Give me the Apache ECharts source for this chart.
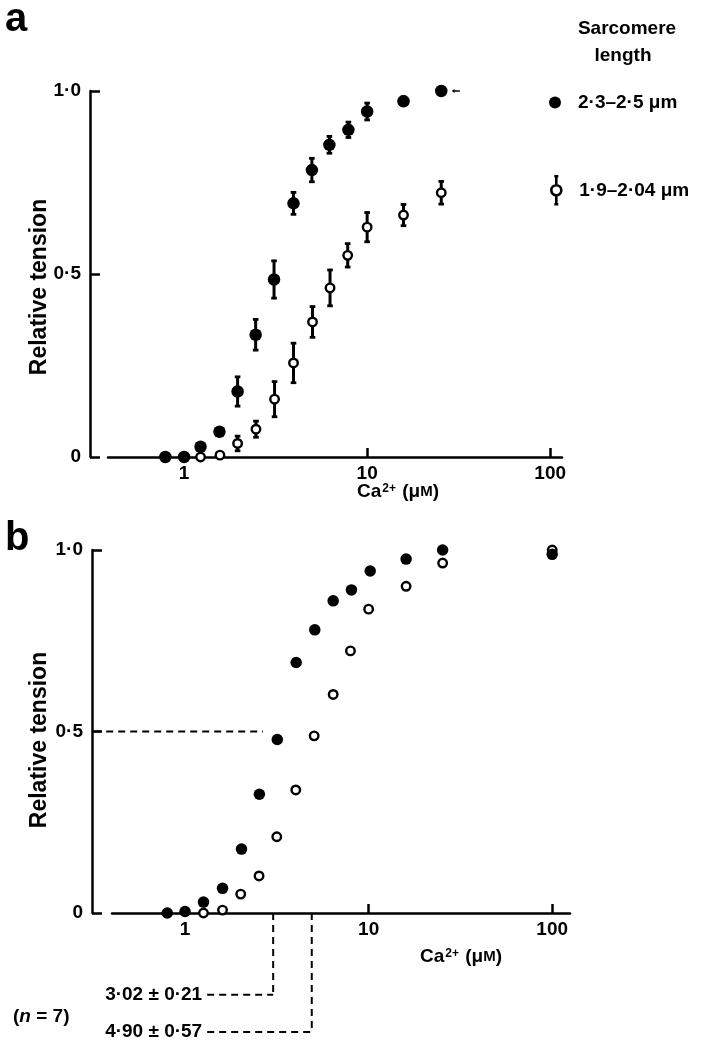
<!DOCTYPE html>
<html>
<head>
<meta charset="utf-8">
<script src="https://cdn.jsdelivr.net/npm/echarts@6/dist/echarts.min.js"></script>
<style>
html,body{margin:0;padding:0;background:#fff;}
#chart{width:705px;height:1050px;}
</style>
</head>
<body>
<div id="chart"></div>
<script>
// ---------------- DATA ----------------
// Panel a : mean tension ± s.e.m.
const caLongA    = [0.79, 1.0, 1.23, 1.56, 1.96, 2.46, 3.10, 3.96, 4.99, 6.22, 7.90, 10.0, 15.8, 25.4];
const tensLongA  = [0, 0, 0.028, 0.069, 0.179, 0.334, 0.485, 0.693, 0.784, 0.853, 0.894, 0.944, 0.972, 1.0];
const semLongA   = [0, 0, 0, 0, 0.040, 0.042, 0.051, 0.030, 0.032, 0.023, 0.021, 0.023, 0.012, 0];
const caShortA   = [1.23, 1.57, 1.96, 2.47, 3.12, 3.96, 5.03, 6.27, 7.83, 10.0, 15.8, 25.4];
const tensShortA = [0, 0.005, 0.037, 0.076, 0.158, 0.257, 0.369, 0.462, 0.551, 0.628, 0.661, 0.722];
const semShortA  = [0, 0, 0.020, 0.022, 0.048, 0.054, 0.042, 0.049, 0.032, 0.040, 0.029, 0.031];
const refArrowA  = [[30.5, 1.0]];

// Panel b : each curve normalised to its own maximum
const caLongB    = [0.80, 1.0, 1.26, 1.60, 2.03, 2.54, 3.18, 4.03, 5.09, 6.41, 8.06, 10.2, 16.0, 25.3, 100];
const tensLongB  = [0, 0.004, 0.030, 0.068, 0.176, 0.327, 0.478, 0.690, 0.780, 0.860, 0.890, 0.942, 0.975, 1.0, 0.988];
const caShortB   = [1.26, 1.60, 2.01, 2.53, 3.16, 4.01, 5.05, 6.41, 7.96, 10.0, 16.0, 25.3, 100];
const tensShortB = [0, 0.008, 0.052, 0.102, 0.210, 0.339, 0.488, 0.602, 0.722, 0.837, 0.900, 0.964, 1.0];

const halfMax  = 0.5;
const ec50     = [3.02, 4.90];
const ec50Sem  = [0.21, 0.57];
const nFibres  = 7;

const xTickValues = [1, 10, 100];
const xTickMarks  = [10, 100];
const seriesNames = ['2·3–2·5 μm', '1·9–2·04 μm'];

// ---------------- LAYOUT / STYLE ----------------
const FONT = '"Liberation Sans", Arial, Helvetica, sans-serif';
const BLACK = '#000';
const guideStartX = 0.32;     // where the half-max dashed line starts (y-axis)
const guideEndX   = 2.66;     // where it stops, before the points
const labelLeftX  = 1.32;     // left end of the label leaders
const labelRowY   = [-0.225, -0.328];

const zip3 = (a, b, c) => a.map((v, i) => [v, b[i], c[i]]);
const zip2 = (a, b) => a.map((v, i) => [v, b[i]]);
const fmtDot = v => String(v).replace('.', '·');

function yAxisCfg(grid, offset) {
  return {
    gridIndex: grid, type: 'value', min: 0, max: 1, interval: 0.5, offset: offset,
    axisLine: {show: true, lineStyle: {color: BLACK, width: 2.5}},
    axisTick: {show: true, inside: true, length: 10, lineStyle: {color: BLACK, width: 2.5}},
    axisLabel: {
      color: BLACK, fontFamily: FONT, fontWeight: 'bold', fontSize: 19, margin: 9,
      formatter: v => v === 0 ? '0' : v.toFixed(1).replace('.', '·')
    },
    splitLine: {show: false}
  };
}
function xAxisCfg(grid, min, max) {
  return {
    gridIndex: grid, type: 'log', logBase: 10, min: min, max: max,
    axisLine: {show: true, onZero: false, lineStyle: {color: BLACK, width: 2.5}},
    axisTick: {show: true, inside: true, length: 9, customValues: xTickMarks,
               lineStyle: {color: BLACK, width: 2.5}},
    axisLabel: {customValues: xTickValues, color: BLACK, fontFamily: FONT, fontWeight: 'bold',
                fontSize: 19, margin: 7, formatter: v => String(Math.round(v))},
    splitLine: {show: false}, minorTick: {show: false}
  };
}

function errRender(params, api) {
  const x = api.value(0), y = api.value(1), e = api.value(2);
  if (!(e > 0)) return null;
  const t = api.coord([x, y + e]), b = api.coord([x, y - e]);
  const cw = 2.8;
  return {type: 'group', children: [
    {type: 'line', shape: {x1: t[0], y1: t[1], x2: b[0], y2: b[1]}, style: {stroke: BLACK, lineWidth: 3}},
    {type: 'line', shape: {x1: t[0] - cw, y1: t[1], x2: t[0] + cw, y2: t[1]}, style: {stroke: BLACK, lineWidth: 2.8}},
    {type: 'line', shape: {x1: b[0] - cw, y1: b[1], x2: b[0] + cw, y2: b[1]}, style: {stroke: BLACK, lineWidth: 2.8}}
  ]};
}

// dashed guide segments of panel b, built from the data above
const guideRows = [[guideStartX, halfMax, guideEndX, halfMax]];
const guideLabels = [null];
ec50.forEach((v, i) => {
  guideRows.push([v, 0, v, labelRowY[i]]);
  guideLabels.push(null);
  guideRows.push([labelLeftX, labelRowY[i], v, labelRowY[i]]);
  guideLabels.push(fmtDot(v.toFixed(2)) + ' ± ' + fmtDot(ec50Sem[i].toFixed(2)));
});
function guideRender(params, api) {
  const p1 = api.coord([api.value(0), api.value(1)]);
  const p2 = api.coord([api.value(2), api.value(3)]);
  const ch = [{type: 'line', shape: {x1: p1[0], y1: p1[1], x2: p2[0], y2: p2[1]},
               style: {stroke: BLACK, lineWidth: 2, lineDash: [7, 5]}}];
  const lab = guideLabels[params.dataIndex];
  if (lab) ch.push({type: 'text', x: p1[0] - 5, y: p1[1],
    style: {text: lab, align: 'right', verticalAlign: 'middle', fill: BLACK,
            font: 'bold 19px ' + FONT}});
  return {type: 'group', children: ch};
}

const filledStyle = {color: BLACK, opacity: 1};
const openStyle = {color: '#fff', borderColor: BLACK, borderWidth: 2.4, opacity: 1};

const caName = {
  text: 'Ca{sup|2+} ({mu|μ}{sm|M})',
  rich: {
    sup: {fontSize: 12, fontWeight: 'bold', fontFamily: FONT, fill: BLACK, verticalAlign: 'top', padding: [0, 1, 0, 1]},
    mu: {fontSize: 19, fontWeight: 'bold', fontFamily: FONT, fill: BLACK},
    sm: {fontSize: 15, fontWeight: 'bold', fontFamily: FONT, fill: BLACK}
  },
  fontSize: 19, fontWeight: 'bold', fontFamily: FONT, fill: BLACK
};

const legendText = {color: BLACK, fontFamily: FONT, fontWeight: 'bold', fontSize: 19};

const chart = echarts.init(document.getElementById('chart'), null, {renderer: 'canvas'});
chart.setOption({
  animation: false,
  backgroundColor: '#fff',
  grid: [
    {left: 108, top: 91, width: 454, height: 366, outerBoundsMode: 'none', containLabel: false},
    {left: 112, top: 550, width: 458, height: 363, outerBoundsMode: 'none', containLabel: false}
  ],
  xAxis: [xAxisCfg(0, 0.384, 116), xAxisCfg(1, 0.40, 125)],
  yAxis: [yAxisCfg(0, 18), yAxisCfg(1, 20)],
  legend: [
    {data: [{name: seriesNames[0], icon: 'circle',
             itemStyle: {color: BLACK, opacity: 1, borderWidth: 0}}],
     left: 544, top: 88, itemWidth: 12, itemHeight: 12,
     selectedMode: false, textStyle: Object.assign({padding: [0, 0, 0, 12]}, legendText)},
    {data: [{name: seriesNames[1],
             icon: 'path://M3,0L7,0M5,0L5,9M10,14A5,5,0,1,1,0,14A5,5,0,1,1,10,14ZM5,19L5,28M3,28L7,28',
             itemStyle: {color: '#fff', borderColor: BLACK, borderWidth: 2.6, opacity: 1}}],
     left: 545, top: 170, itemWidth: 10, itemHeight: 28,
     selectedMode: false, textStyle: Object.assign({padding: [0, 0, 0, 13]}, legendText)}
  ],
  series: [
    // panel a error bars
    {type: 'custom', name: seriesNames[0] + ' sem', xAxisIndex: 0, yAxisIndex: 0, z: 2,
     data: zip3(caLongA, tensLongA, semLongA), encode: {x: 0, y: 1}, renderItem: errRender, silent: true},
    {type: 'custom', name: seriesNames[1] + ' sem', xAxisIndex: 0, yAxisIndex: 0, z: 2,
     data: zip3(caShortA, tensShortA, semShortA), encode: {x: 0, y: 1}, renderItem: errRender, silent: true},
    // panel a points
    {type: 'scatter', name: seriesNames[0], xAxisIndex: 0, yAxisIndex: 0, z: 3, clip: false,
     symbol: 'circle', symbolSize: 12.5, itemStyle: filledStyle, data: zip2(caLongA, tensLongA)},
    {type: 'scatter', name: seriesNames[1], xAxisIndex: 0, yAxisIndex: 0, z: 4, clip: false,
     symbol: 'circle', symbolSize: 8.5, itemStyle: openStyle, data: zip2(caShortA, tensShortA)},
    {type: 'scatter', name: 'ref', xAxisIndex: 0, yAxisIndex: 0, z: 3, clip: false,
     symbol: 'path://M0,3L4,0L4,2L12,2L12,4L4,4L4,6Z', symbolSize: [8, 4], itemStyle: filledStyle,
     data: refArrowA, silent: true},
    // panel b guides
    {type: 'custom', name: 'guides', xAxisIndex: 1, yAxisIndex: 1, z: 1, clip: false,
     data: guideRows, encode: {x: [0, 2], y: [1, 3]}, renderItem: guideRender, silent: true},
    // panel b points
    {type: 'scatter', name: seriesNames[1], xAxisIndex: 1, yAxisIndex: 1, z: 3, clip: false,
     symbol: 'circle', symbolSize: 8.5, itemStyle: openStyle, data: zip2(caShortB, tensShortB)},
    {type: 'scatter', name: seriesNames[0], xAxisIndex: 1, yAxisIndex: 1, z: 4, clip: false,
     symbol: 'circle', symbolSize: 11.5, itemStyle: filledStyle, data: zip2(caLongB, tensLongB)}
  ],
  graphic: [
    {type: 'text', x: 5, y: 20, style: {text: 'a', font: 'bold 40px ' + FONT, fill: BLACK, verticalAlign: 'middle'}},
    {type: 'text', x: 5, y: 539, style: {text: 'b', font: 'bold 40px ' + FONT, fill: BLACK, verticalAlign: 'middle'}},
    {type: 'text', x: 627, y: 29, style: {text: 'Sarcomere', font: 'bold 19px ' + FONT, fill: BLACK, align: 'center', verticalAlign: 'middle'}},
    {type: 'text', x: 623, y: 56, style: {text: 'length', font: 'bold 19px ' + FONT, fill: BLACK, align: 'center', verticalAlign: 'middle'}},
    {type: 'text', x: 40, y: 287, rotation: Math.PI / 2,
     style: {text: 'Relative tension', font: 'bold 23px ' + FONT, fill: BLACK, align: 'center', verticalAlign: 'middle'}},
    {type: 'text', x: 40, y: 740, rotation: Math.PI / 2,
     style: {text: 'Relative tension', font: 'bold 23px ' + FONT, fill: BLACK, align: 'center', verticalAlign: 'middle'}},
    {type: 'text', x: 357, y: 492, style: Object.assign({}, caName, {align: 'left', verticalAlign: 'middle'})},
    {type: 'text', x: 420, y: 957, style: Object.assign({}, caName, {align: 'left', verticalAlign: 'middle'})},
    {type: 'text', x: 13, y: 1017, style: {
      text: '({it|n} = ' + nFibres + ')', font: 'bold 19px ' + FONT, fill: BLACK, verticalAlign: 'middle',
      rich: {it: {fontStyle: 'italic', fontWeight: 'bold', fontSize: 19, fontFamily: FONT, fill: BLACK}}}}
  ]
});
</script>
</body>
</html>
